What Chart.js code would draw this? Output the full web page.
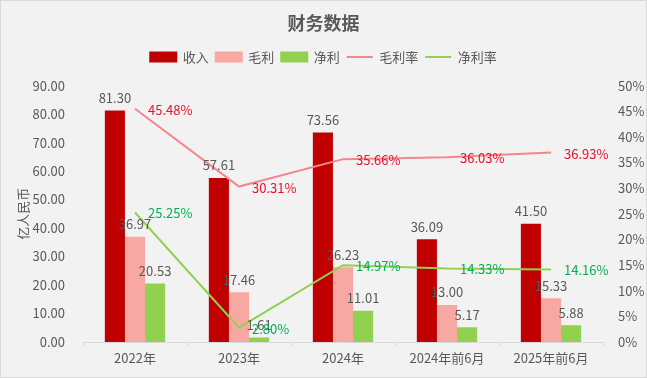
<!DOCTYPE html>
<html>
<head>
<meta charset="utf-8">
<script src="https://cdn.jsdelivr.net/npm/chart.js@4"></script>
<style>
  body { margin: 0; background: #fff; }
</style>
</head>
<body>
<canvas id="finChart" width="647" height="378"></canvas>
<script>
const categories = ['2022年', '2023年', '2024年', '2024年前6月', '2025年前6月'];
const revenue = [81.30, 57.61, 73.56, 36.09, 41.50];
const grossProfit = [36.97, 17.46, 26.23, 13.00, 15.33];
const netProfit = [20.53, 1.61, 11.01, 5.17, 5.88];
const grossMargin = [45.48, 30.31, 35.66, 36.03, 36.93];
const netMargin = [25.25, 2.80, 14.97, 14.33, 14.16];

const font = "'Microsoft YaHei', 'Noto Sans CJK SC', sans-serif";
const textGray = '#595959';

// background + frame, and a bit more room under the legend
const bgPlugin = {
    id: 'bg',
    beforeInit(chart) {
        const fit = chart.legend.fit;
        chart.legend.fit = function () {
            fit.call(this);
            this.height += 12;
        };
    },
    beforeDraw(chart) {
        const c = chart.ctx;
        c.save();
        c.fillStyle = '#f2f2f2';
        c.fillRect(0, 0, chart.width, chart.height);
        c.strokeStyle = '#d9d9d9';
        c.strokeRect(0.5, 0.5, chart.width - 1, chart.height - 1);
        c.restore();
    }
};

// value labels
const labelPlugin = {
    id: 'valueLabels',
    afterDatasetsDraw(chart) {
        const c = chart.ctx;
        c.save();
        c.font = '13px ' + font;
        chart.data.datasets.forEach((ds, i) => {
            const meta = chart.getDatasetMeta(i);
            meta.data.forEach((el, j) => {
                const v = ds.data[j];
                if (ds.type === 'line') {
                    c.fillStyle = ds.labelColor;
                    c.textAlign = 'left';
                    c.textBaseline = 'middle';
                    c.fillText(v.toFixed(2) + '%', el.x + 13, el.y + 1);
                } else {
                    c.fillStyle = textGray;
                    c.textAlign = 'center';
                    c.textBaseline = 'bottom';
                    c.fillText(v.toFixed(2), el.x, el.y - 6);
                }
            });
        });
        c.restore();
    }
};

new Chart(document.getElementById('finChart').getContext('2d'), {
    data: {
        labels: categories,
        datasets: [
            { type: 'bar', label: '收入', data: revenue, backgroundColor: '#c00000', yAxisID: 'y', order: 2 },
            { type: 'bar', label: '毛利', data: grossProfit, backgroundColor: '#f8a8a2', yAxisID: 'y', order: 2 },
            { type: 'bar', label: '净利', data: netProfit, backgroundColor: '#92d050', yAxisID: 'y', order: 2 },
            { type: 'line', label: '毛利率', data: grossMargin, borderColor: '#f4868c', backgroundColor: '#f4868c',
              borderWidth: 2, pointRadius: 0, yAxisID: 'y1', labelColor: '#e8112d', order: 1 },
            { type: 'line', label: '净利率', data: netMargin, borderColor: '#92d050', backgroundColor: '#92d050',
              borderWidth: 2, pointRadius: 0, yAxisID: 'y1', labelColor: '#00b050', order: 1 }
        ]
    },
    options: {
        responsive: false,
        animation: false,
        layout: { padding: 0 },
        datasets: { bar: { categoryPercentage: 0.58, barPercentage: 1 } },
        plugins: {
            title: {
                display: true,
                text: '财务数据',
                color: textGray,
                font: { family: font, size: 18, weight: 'bold' },
                padding: { top: 12, bottom: 10 }
            },
            legend: {
                position: 'top',
                labels: {
                    color: textGray,
                    font: { family: font, size: 13 },
                    usePointStyle: true,
                    pointStyleWidth: 26,
                    boxHeight: 9,
                    padding: 7,
                    generateLabels(chart) {
                        return chart.data.datasets.map((ds, i) => ({
                            text: ds.label,
                            fillStyle: ds.backgroundColor,
                            strokeStyle: ds.type === 'line' ? ds.borderColor : ds.backgroundColor,
                            lineWidth: 2,
                            pointStyle: ds.type === 'line' ? 'line' : 'rect',
                            fontColor: textGray,
                            datasetIndex: i
                        }));
                    }
                }
            },
            tooltip: { enabled: false }
        },
        scales: {
            x: {
                afterFit(s) { s.height = 36; },
                grid: { display: true, drawOnChartArea: false, offset: true, tickLength: 4, color: '#d9d9d9' },
                border: { color: '#d9d9d9' },
                ticks: { color: textGray, font: { family: font, size: 13 }, padding: 4 }
            },
            y: {
                position: 'left',
                min: 0, max: 90,
                afterFit(s) { s.width = 83; },
                ticks: { stepSize: 10, color: textGray, font: { family: font, size: 13 },
                         callback: v => v.toFixed(2), padding: 10 },
                grid: { display: false },
                border: { display: false },
                title: { display: true, text: '亿人民币', color: textGray,
                         font: { family: font, size: 13 }, padding: { top: 15, bottom: 0 } }
            },
            y1: {
                position: 'right',
                min: 0, max: 50,
                afterFit(s) { s.width = 44; },
                ticks: { stepSize: 5, color: textGray, font: { family: font, size: 13 },
                         callback: v => v + '%', padding: 7 },
                grid: { display: false },
                border: { display: false }
            }
        }
    },
    plugins: [bgPlugin, labelPlugin]
});
</script>
</body>
</html>
